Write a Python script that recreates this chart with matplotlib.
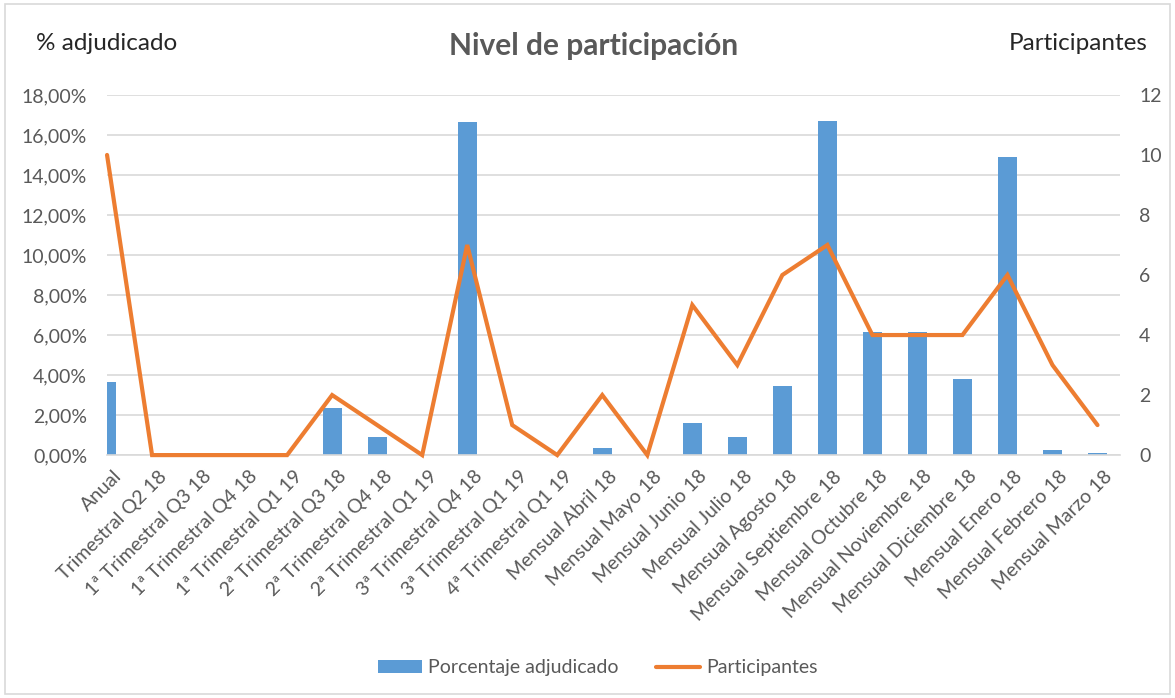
import matplotlib
matplotlib.use("Agg")
import matplotlib.pyplot as plt
import matplotlib.transforms as mtransforms
from matplotlib.ticker import FuncFormatter, MultipleLocator

categories = [
    "Anual", "Trimestral Q2 18", "1ª Trimestral Q3 18", "1ª Trimestral Q4 18",
    "1ª Trimestral Q1 19", "2ª Trimestral Q3 18", "2ª Trimestral Q4 18",
    "2ª Trimestral Q1 19", "3ª Trimestral Q4 18", "3ª Trimestral Q1 19",
    "4ª Trimestral Q1 19", "Mensual Abril 18", "Mensual Mayo 18",
    "Mensual Junio 18", "Mensual Julio 18", "Mensual Agosto 18",
    "Mensual Septiembre 18", "Mensual Octubre 18", "Mensual Noviembre 18",
    "Mensual Diciembre 18", "Mensual Enero 18", "Mensual Febrero 18",
    "Mensual Marzo 18",
]
pct_adjudicado = [3.65, 0, 0, 0, 0, 2.35, 0.9, 0, 16.65, 0, 0, 0.35, 0,
                  1.6, 0.9, 3.45, 16.7, 6.17, 6.17, 3.8, 14.9, 0.25, 0.1]
participantes = [10, 0, 0, 0, 0, 2, 1, 0, 7, 1, 0, 2, 0, 5, 3, 6, 7, 4, 4, 4, 6, 3, 1]

BLUE = "#5B9BD5"
ORANGE = "#ED7D31"
GREY = "#595959"

plt.rcParams["font.family"] = ["Lato", "DejaVu Sans"]

fig = plt.figure(figsize=(11.75, 6.98), dpi=100)
ax = fig.add_axes([0.0911, 0.348, 0.8621, 0.516])
ax2 = ax.twinx()

x = list(range(len(categories)))
ax.bar(x, pct_adjudicado, width=0.42, color=BLUE, zorder=2, label="Porcentaje adjudicado")
ax2.plot(x, participantes, color=ORANGE, lw=3.0, solid_joinstyle="miter",
         solid_capstyle="round", zorder=3, label="Participantes", clip_on=False)

# plot area starts at the first category (Anual bar is cut in half)
ax.set_xlim(0, 22.5)
ax.set_ylim(0, 18)
ax2.set_ylim(0, 12)
ax.yaxis.set_major_locator(MultipleLocator(2))
ax2.yaxis.set_major_locator(MultipleLocator(2))
ax.yaxis.set_major_formatter(FuncFormatter(lambda v, p: f"{v:.2f}%".replace(".", ",")))

ax.grid(axis="y", color="#D9D9D9", lw=1.2, zorder=0)
ax.set_axisbelow(True)
for a in (ax, ax2):
    for s in a.spines.values():
        s.set_visible(False)
ax.spines["bottom"].set_visible(True)
ax.spines["bottom"].set_color("#D9D9D9")
ax.spines["bottom"].set_linewidth(1.2)

ax.set_xticks(x)
ax.set_xticklabels(categories, rotation=45, ha="right", rotation_mode="anchor",
                   fontsize=14, color=GREY)
ax.tick_params(axis="x", length=0, pad=9)
shift = mtransforms.ScaledTranslation(0.06, 0, fig.dpi_scale_trans)
for lbl in ax.get_xticklabels():
    lbl.set_transform(lbl.get_transform() + shift)
ax.tick_params(axis="y", length=0, labelsize=14, labelcolor=GREY, pad=14.4)
ax2.tick_params(axis="y", length=0, labelsize=14, labelcolor=GREY, pad=13.7)

fig.text(0.505, 0.934, "Nivel de participación", ha="center", va="center",
         fontsize=21.5, fontweight="bold", color=GREY)
fig.text(0.031, 0.937, "% adjudicado", ha="left", va="center", fontsize=17.5, color="#262626")
fig.text(0.977, 0.937, "Participantes", ha="right", va="center", fontsize=17.5, color="#262626")

h1, l1 = ax.get_legend_handles_labels()
h2, l2 = ax2.get_legend_handles_labels()
fig.legend(h1 + h2, l1 + l2, loc="center", bbox_to_anchor=(0.5085, 0.043), ncol=2,
           frameon=False, fontsize=14, labelcolor=GREY, handlelength=2.27,
           handleheight=0.6, columnspacing=1.95, handletextpad=0.3)

fig.patches.append(plt.Rectangle((0.004, 0.006), 0.992, 0.988, transform=fig.transFigure,
                                 fill=False, edgecolor="#D9D9D9", lw=1.2))

fig.savefig("out.png", dpi=100)
